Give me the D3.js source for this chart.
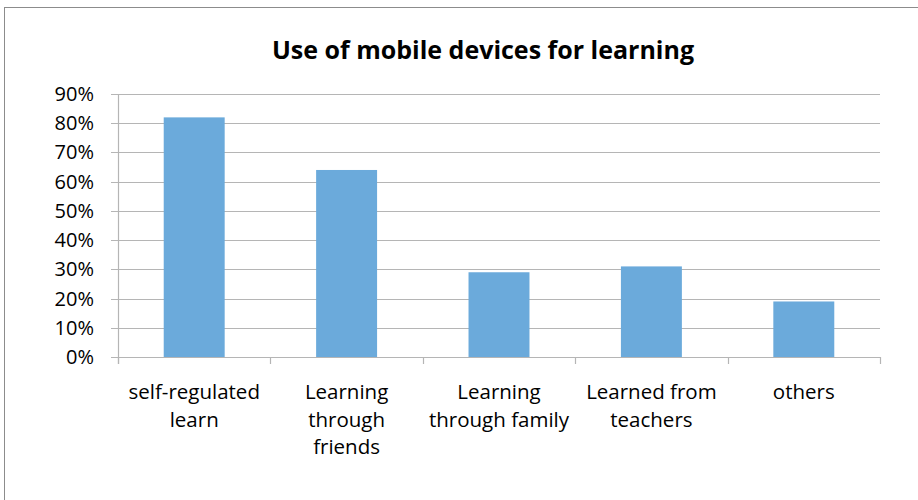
<!DOCTYPE html>
<html>
<head>
<meta charset="utf-8">
<script src="https://cdn.jsdelivr.net/npm/d3@7"></script>
<style>
  body { margin: 0; background: #fff; }
  text { font-family: "Open Sans", "Noto Sans", sans-serif; fill: #000; }
</style>
</head>
<body>
<svg id="chart" width="918" height="500"></svg>
<script>
// Data
const categories = [
    ["self-regulated", "learn"],
    ["Learning", "through", "friends"],
    ["Learning", "through family"],
    ["Learned from", "teachers"],
    ["others"]
];
const values = [0.82, 0.64, 0.29, 0.31, 0.19];
const yTicks = [0, 0.1, 0.2, 0.3, 0.4, 0.5, 0.6, 0.7, 0.8, 0.9];

let svg = d3.select("#chart");
const plot = { left: 118, right: 880, top: 94, bottom: 357 };

// chart border
svg.append("rect")
    .attr("x", 4.5).attr("y", 7.5)
    .attr("width", 940).attr("height", 520)
    .attr("fill", "none")
    .attr("stroke", "#8c8c8c")
    .attr("stroke-width", 1);

// title
svg.append("text")
    .attr("x", 483).attr("y", 59)
    .attr("text-anchor", "middle")
    .style("font-size", "25px")
    .style("font-weight", "bold")
    .text("Use of mobile devices for learning");

let x = d3.scaleBand()
    .domain(d3.range(categories.length))
    .range([plot.left, plot.right])
    .padding(0);

let y = d3.scaleLinear()
    .domain([0, 0.9])
    .range([plot.bottom, plot.top]);

// gridlines
svg.append("g").selectAll("line.grid").data(yTicks)
    .join("line")
    .attr("class", "grid")
    .attr("x1", plot.left - 7).attr("x2", plot.right)
    .attr("y1", d => Math.round(y(d)) + 0.5)
    .attr("y2", d => Math.round(y(d)) + 0.5)
    .attr("stroke", "#b5b5b5")
    .attr("stroke-width", 1.2);

// y tick labels
svg.append("g").selectAll("text.ytick").data(yTicks)
    .join("text")
    .attr("class", "ytick")
    .attr("x", 94)
    .attr("y", d => y(d) + 7)
    .attr("text-anchor", "end")
    .style("font-size", "20px")
    .text(d => d3.format(".0%")(d));

// bars
const barW = x.bandwidth() * 0.4;
svg.append("g").selectAll("rect.bar").data(values)
    .join("rect")
    .attr("class", "bar")
    .attr("x", (d, i) => x(i) + (x.bandwidth() - barW) / 2)
    .attr("y", d => y(d))
    .attr("width", barW)
    .attr("height", d => y(0) - y(d))
    .attr("fill", "#6baadb");

// axes lines
svg.append("line")
    .attr("x1", plot.left + 0.5).attr("x2", plot.left + 0.5)
    .attr("y1", plot.top).attr("y2", plot.bottom + 7)
    .attr("stroke", "#b5b5b5").attr("stroke-width", 1.2);
svg.append("line")
    .attr("x1", plot.left).attr("x2", plot.right)
    .attr("y1", plot.bottom + 0.5).attr("y2", plot.bottom + 0.5)
    .attr("stroke", "#b5b5b5").attr("stroke-width", 1.2);

// x ticks at band boundaries
const bounds = d3.range(categories.length + 1).map(i => i < categories.length ? x(i) : plot.right);
svg.append("g").selectAll("line.xtick").data(bounds)
    .join("line")
    .attr("class", "xtick")
    .attr("x1", d => Math.round(d) + 0.5).attr("x2", d => Math.round(d) + 0.5)
    .attr("y1", plot.bottom).attr("y2", plot.bottom + 7)
    .attr("stroke", "#b5b5b5").attr("stroke-width", 1.2);

// category labels
let labels = svg.append("g").selectAll("text.xlab").data(categories)
    .join("text")
    .attr("class", "xlab")
    .attr("text-anchor", "middle")
    .style("font-size", "20.5px");
labels.selectAll("tspan").data((d, i) => d.map(t => ({ t: t, i: i })))
    .join("tspan")
    .attr("x", d => x(d.i) + x.bandwidth() / 2)
    .attr("y", (d, j) => 399 + j * 27.5)
    .text(d => d.t);
</script>
</body>
</html>
